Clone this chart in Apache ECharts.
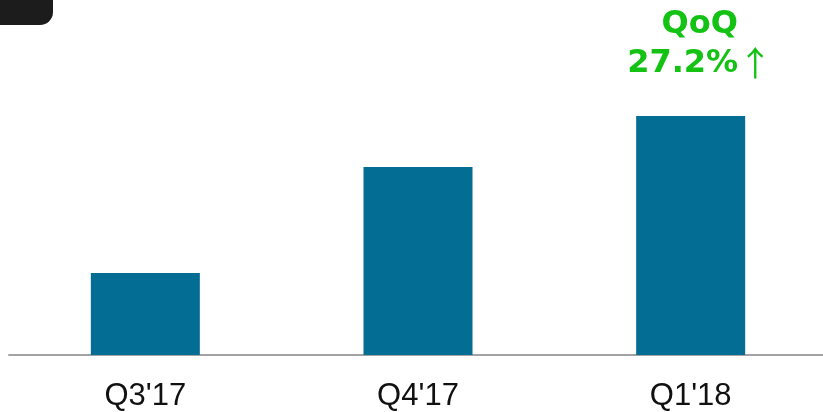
<!DOCTYPE html>
<html>
<head>
<meta charset="utf-8">
<script src="https://cdn.jsdelivr.net/npm/echarts@6/dist/echarts.min.js"></script>
<style>
  html, body { margin: 0; padding: 0; background: #fff; }
  #main { width: 823px; height: 412px; }
</style>
</head>
<body>
<div id="main"></div>
<script>
var categories = ["Q3'17", "Q4'17", "Q1'18"];
var values = [82, 188, 239];
var qoqTitle = 'QoQ';
var qoqValue = '27.2%';

var myChart = echarts.init(document.getElementById('main'));

var option = {
    animation: false,
    grid: { left: 9, right: -4, top: 55, bottom: 57, outerBoundsMode: 'none', containLabel: false },
    graphic: [
        {
            // dark tab in the corner
            type: 'rect',
            left: 0, top: 0,
            shape: { width: 53, height: 25, r: [0, 0, 13, 0] },
            style: { fill: '#1c1c1c' }
        }
    ],
    xAxis: {
        type: 'category',
        data: categories,
        axisLine: { lineStyle: { color: '#a3a3a3', width: 2 } },
        axisTick: { show: false },
        axisLabel: {
            margin: 26,
            fontSize: 31,
            fontFamily: 'Liberation Sans',
            color: '#111'
        }
    },
    yAxis: {
        type: 'value',
        min: 0,
        max: 300,
        show: false
    },
    series: [
        {
            type: 'bar',
            barWidth: 109,
            itemStyle: { color: '#036d93' },
            data: values.map(function (v, i) {
                if (i !== values.length - 1) return v;
                return {
                    value: v,
                    label: {
                        show: true,
                        position: 'top',
                        distance: 33,
                        offset: [9, 0],
                        formatter: '{t|' + qoqTitle + '}\n{t|' + qoqValue + '}{a|↑}',
                        rich: {
                            t: {
                                fontSize: 32,
                                lineHeight: 39,
                                fontWeight: 'bold',
                                fontFamily: 'DejaVu Sans',
                                color: '#14c214'
                            },
                            a: {
                                fontSize: 34,
                                lineHeight: 39,
                                fontFamily: 'Noto Sans CJK JP',
                                color: '#14c214'
                            }
                        }
                    }
                };
            })
        }
    ]
};

myChart.setOption(option);
</script>
</body>
</html>
